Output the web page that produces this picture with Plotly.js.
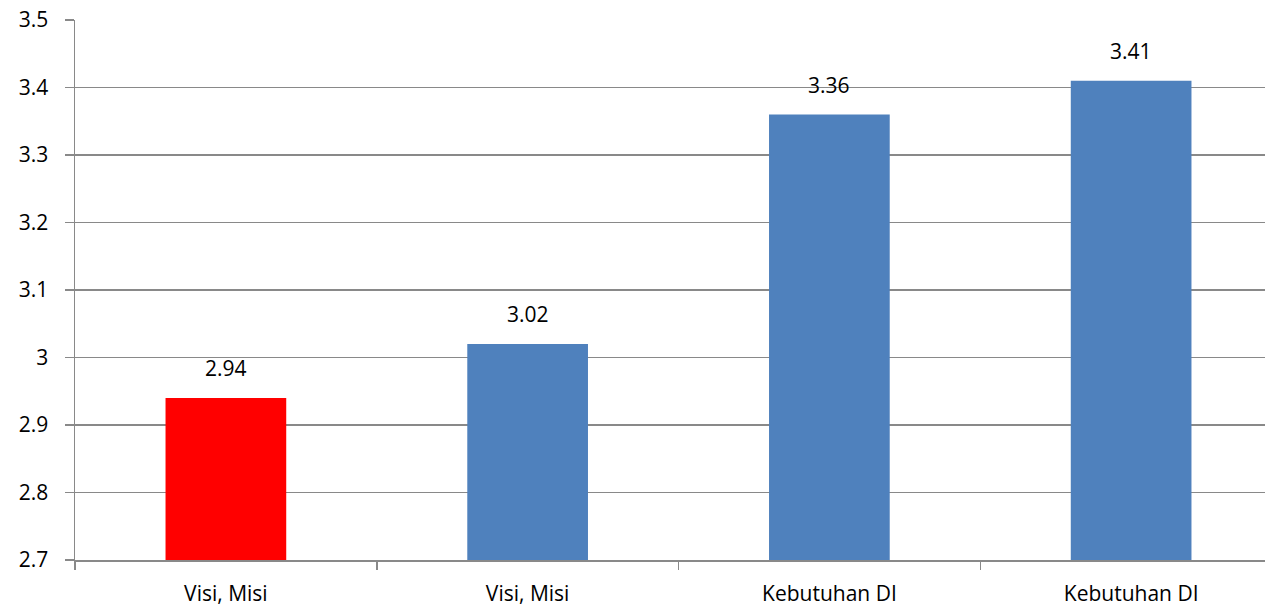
<!DOCTYPE html>
<html>
<head>
<meta charset="utf-8">
<script src="https://cdn.plot.ly/plotly-3.0.1.min.js"></script>
<style>
html,body{margin:0;padding:0;overflow:hidden;background:#fff;}
#chart{width:1290px;height:611px;}
</style>
</head>
<body>
<div id="chart"></div>
<script>
const categories = ["Visi, Misi", "Visi, Misi", "Kebutuhan DI", "Kebutuhan DI"];
const values = [2.94, 3.02, 3.36, 3.41];
const barColors = ["#FF0000", "#4F81BD", "#4F81BD", "#4F81BD"];
const labels = ["2.94", "3.02", "3.36", "3.41"];

const xs = categories.map((c, i) => i);
const font = "Open Sans, Noto Sans, sans-serif";
const gridColor = "#898989";

const trace = {
  type: "bar",
  x: xs,
  y: values,
  marker: {color: barColors, line: {width: 0}},
  hoverinfo: "skip"
};

const annotations = xs.map((x, i) => ({
  x: x, y: values[i], xref: "x", yref: "y",
  text: labels[i], showarrow: false,
  yanchor: "bottom", yshift: 14,
  font: {family: font, size: 21, color: "#000"}
}));

const layout = {
  width: 1290, height: 611,
  margin: {l: 75, r: 8, t: 20, b: 51},
  paper_bgcolor: "#fff", plot_bgcolor: "#fff",
  bargap: 0.6,
  showlegend: false,
  xaxis: {
    range: [-0.5, 3.5],
    tickmode: "array", tickvals: xs, ticktext: categories,
    ticks: "", showgrid: false, zeroline: false,
    showline: true, linecolor: gridColor, linewidth: 1.5,
    ticklabelstandoff: 14,
    tickfont: {family: font, size: 21, color: "#000"},
    minor: {tickmode: "array", tickvals: [-0.5, 0.5, 1.5, 2.5, 3.5], ticks: "outside", ticklen: 8, tickcolor: gridColor, tickwidth: 1.5, showgrid: false}
  },
  yaxis: {
    range: [2.7, 3.5], dtick: 0.1, tick0: 2.7,
    ticks: "outside", ticklen: 9, tickcolor: gridColor, tickwidth: 1.5,
    showgrid: true, gridcolor: gridColor, gridwidth: 1.3,
    zeroline: false, showline: true, linecolor: gridColor, linewidth: 1.5,
    ticklabelstandoff: 12,
    tickfont: {family: font, size: 21, color: "#000"}
  },
  annotations: annotations
};

Plotly.newPlot("chart", [trace], layout, {displayModeBar: false, staticPlot: true});
</script>
</body>
</html>
